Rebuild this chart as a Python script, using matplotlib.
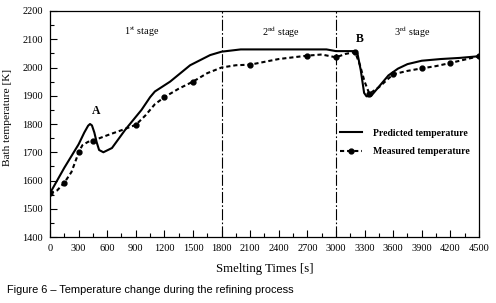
import matplotlib
matplotlib.use('Agg')
import matplotlib.pyplot as plt
from matplotlib.ticker import MultipleLocator

plt.rcParams['font.family'] = ['Liberation Serif', 'DejaVu Serif']
plt.rcParams['mathtext.fontset'] = 'stix'

# predicted temperature curve
pred_t = [0, 150, 300, 360, 400, 420, 440, 465, 490, 515, 560, 650, 790, 960, 1050, 1100,
          1260, 1470, 1680, 1800, 2000, 2900, 3000, 3200, 3225, 3260, 3295, 3320, 3370,
          3450, 3550, 3650, 3750, 3900, 4100, 4300, 4500]
pred_T = [1555, 1645, 1728, 1770, 1794, 1800, 1795, 1770, 1735, 1708, 1700, 1715, 1780,
          1850, 1895, 1915, 1950, 2008, 2044, 2056, 2064, 2064, 2058, 2058, 2050, 1990,
          1910, 1898, 1900, 1932, 1972, 1996, 2012, 2024, 2030, 2034, 2040]

# measured temperature: dashed trace and the measured points on it
meas_line_t = [0, 75, 150, 225, 280, 300, 340, 400, 450, 600, 750, 900, 1000, 1100, 1200,
               1350, 1500, 1650, 1800, 1950, 2100, 2400, 2700, 2850, 3000, 3100, 3200,
               3250, 3300, 3350, 3450, 3600, 3750, 3900, 4050, 4200, 4350, 4500]
meas_line_T = [1555, 1565, 1592, 1630, 1680, 1700, 1725, 1737, 1741, 1760, 1778, 1797,
               1830, 1870, 1895, 1925, 1950, 1980, 2000, 2008, 2010, 2030, 2042, 2046,
               2036, 2048, 2055, 2010, 1950, 1907, 1930, 1976, 1988, 1997, 2005, 2016,
               2028, 2040]
meas_t = [0, 150, 300, 450, 900, 1200, 1500, 2100, 2700, 3000, 3200, 3350, 3600, 3900,
          4200, 4500]

stage_bounds = [1800, 3000]
stage_labels = [(967, r'1$^{\rm st}$ stage'), (2420, r'2$^{\rm nd}$ stage'),
                (3800, r'3$^{\rm rd}$ stage')]

fig = plt.figure(figsize=(4.96, 3.03), dpi=100)
ax = fig.add_axes([0.1008, 0.2178, 0.8649, 0.7459])

ax.plot(pred_t, pred_T, color='black', lw=1.5, label='Predicted temperature')
marks = [meas_line_t.index(t) for t in meas_t]
ax.plot(meas_line_t, meas_line_T, color='black', lw=1.5, ls=(0, (2.0, 1.4)),
        marker='o', ms=3.5, markevery=marks, label='Measured temperature')

for b in stage_bounds:
    ax.axvline(b, color='black', lw=0.8, dashes=(10, 2, 1.5, 2))

for x, s in stage_labels:
    ax.text(x, 2126, s, ha='center', va='center', fontsize=7.3)

ax.text(480, 1847, 'A', ha='center', va='center', fontsize=8.5, fontweight='bold')
ax.text(3245, 2100, 'B', ha='center', va='center', fontsize=8.5, fontweight='bold')

ax.set_xlim(0, 4500)
ax.set_ylim(1400, 2200)
ax.xaxis.set_major_locator(MultipleLocator(300))
ax.xaxis.set_minor_locator(MultipleLocator(150))
ax.yaxis.set_major_locator(MultipleLocator(100))
ax.yaxis.set_minor_locator(MultipleLocator(50))
ax.tick_params(which='both', direction='in', top=False, right=False, labelsize=7.5)
ax.tick_params(which='major', length=5, width=0.8, pad=5)
ax.tick_params(which='minor', length=3, width=0.8)
for sp in ax.spines.values():
    sp.set_linewidth(0.9)

ax.set_xlabel('Smelting Times [s]', fontsize=9.3)
ax.set_ylabel('Bath temperature [K]', fontsize=8.2)
ax.yaxis.set_label_coords(-0.089, 0.531)
ax.xaxis.set_label_coords(0.5, -0.115)

leg = ax.legend(loc='center left', bbox_to_anchor=(0.676, 0.418), frameon=False,
                prop={'weight': 'bold', 'size': 7}, handlelength=2.3,
                handletextpad=1.1, labelspacing=1.0, borderpad=0, borderaxespad=0,
                numpoints=1)

fig.text(0.014, 0.043, 'Figure 6 \u2013 Temperature change during the refining process',
         fontsize=7.9, family='Liberation Sans', va='center', ha='left')

fig.savefig('out.png', dpi=100)
